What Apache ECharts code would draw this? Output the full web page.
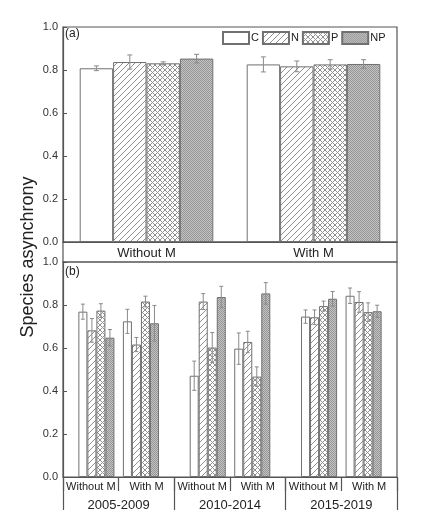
<!DOCTYPE html>
<html>
<head>
<meta charset="utf-8">
<script src="https://cdn.jsdelivr.net/npm/echarts@6/dist/echarts.min.js"></script>
<style>
html,body{margin:0;padding:0;background:#fff;}
#chart{width:434px;height:531px;}
</style>
</head>
<body>
<div id="chart"></div>
<script>
// ---------- data ----------
const treatments = ['C', 'N', 'P', 'NP'];
const topCategories = ['Without M', 'With M'];

const topC = [0.808, 0.826];
const topCErr = [0.011, 0.035];
const topN = [0.837, 0.817];
const topNErr = [0.033, 0.025];
const topP = [0.831, 0.826];
const topPErr = [0.007, 0.022];
const topNP = [0.853, 0.828];
const topNPErr = [0.020, 0.020];

const subgroupLabels = ['Without M', 'With M', 'Without M', 'With M', 'Without M', 'With M'];
const periodLabels = ['2005-2009', '2010-2014', '2015-2019'];

const botC = [0.769, 0.724, 0.471, 0.597, 0.746, 0.843];
const botCErr = [0.035, 0.056, 0.068, 0.073, 0.031, 0.036];
const botN = [0.682, 0.616, 0.816, 0.628, 0.743, 0.814];
const botNErr = [0.055, 0.033, 0.037, 0.050, 0.034, 0.048];
const botP = [0.774, 0.816, 0.602, 0.467, 0.795, 0.767];
const botPErr = [0.032, 0.025, 0.070, 0.045, 0.023, 0.043];
const botNP = [0.648, 0.715, 0.837, 0.854, 0.829, 0.771];
const botNPErr = [0.038, 0.083, 0.050, 0.050, 0.034, 0.028];

const yTicks = ['0.0', '0.2', '0.4', '0.6', '0.8', '1.0'];

// ---------- layout helpers ----------
const slotCount = 15;                    // bottom axis slots
const groupSlots = [1, 3, 6, 8, 11, 13]; // slot of each subgroup
const topBarRatio = 0.20;
const botBarRatio = 0.405;

const topMeans = [topC, topN, topP, topNP];
const topErrs = [topCErr, topNErr, topPErr, topNPErr];
const botMeans = [botC, botN, botP, botNP];
const botErrs = [botCErr, botNErr, botPErr, botNPErr];

// ---------- patterns ----------
function makePattern(kind) {
  const c = document.createElement('canvas');
  const ctx = c.getContext('2d');
  if (kind === 'C') {
    c.width = c.height = 4;
    ctx.fillStyle = '#ffffff'; ctx.fillRect(0, 0, 4, 4);
  } else if (kind === 'N') {
    const s = 6; c.width = c.height = s;
    ctx.fillStyle = '#ffffff'; ctx.fillRect(0, 0, s, s);
    ctx.strokeStyle = '#909090'; ctx.lineWidth = 1;
    ctx.beginPath();
    ctx.moveTo(0, s); ctx.lineTo(s, 0);
    ctx.moveTo(-1, 1); ctx.lineTo(1, -1);
    ctx.moveTo(s - 1, s + 1); ctx.lineTo(s + 1, s - 1);
    ctx.stroke();
  } else if (kind === 'P') {
    const s = 5; c.width = c.height = s;
    ctx.fillStyle = '#ffffff'; ctx.fillRect(0, 0, s, s);
    ctx.strokeStyle = '#909090'; ctx.lineWidth = 1;
    ctx.beginPath();
    ctx.moveTo(0, s); ctx.lineTo(s, 0);
    ctx.moveTo(-1, 1); ctx.lineTo(1, -1);
    ctx.moveTo(s - 1, s + 1); ctx.lineTo(s + 1, s - 1);
    ctx.moveTo(0, 0); ctx.lineTo(s, s);
    ctx.moveTo(-1, s - 1); ctx.lineTo(1, s + 1);
    ctx.moveTo(s - 1, -1); ctx.lineTo(s + 1, 1);
    ctx.stroke();
  } else {
    c.width = c.height = 2;
    ctx.fillStyle = '#c4c4c4'; ctx.fillRect(0, 0, 2, 2);
    ctx.fillStyle = '#959595'; ctx.fillRect(0, 0, 1, 1); ctx.fillRect(1, 1, 1, 1);
  }
  return { image: c, repeat: 'repeat' };
}
const patterns = treatments.map(makePattern);

// ---------- error bar renderer ----------
function errRenderer(ratio, n, cap) {
  return function (params, api) {
    const cat = api.value(0), v = api.value(1), e = api.value(2), k = api.value(3);
    const band = api.size([1, 0])[0];
    const bw = band * ratio;
    const c = api.coord([cat, v]);
    const x = c[0] + (k - (n - 1) / 2) * bw;
    const y1 = api.coord([cat, v + e])[1];
    const y2 = api.coord([cat, v - e])[1];
    const st = { stroke: '#8a8a8a', lineWidth: 1 };
    return {
      type: 'group',
      children: [
        { type: 'line', shape: { x1: x, y1: y1, x2: x, y2: y2 }, style: st },
        { type: 'line', shape: { x1: x - cap, y1: y1, x2: x + cap, y2: y1 }, style: st },
        { type: 'line', shape: { x1: x - cap, y1: y2, x2: x + cap, y2: y2 }, style: st }
      ]
    };
  };
}

// ---------- series ----------
const series = [];
treatments.forEach(function (t, k) {
  series.push({
    name: t, type: 'bar', xAxisIndex: 0, yAxisIndex: 0,
    barWidth: (topBarRatio * 100) + '%', barGap: '0%',
    itemStyle: { color: patterns[k], borderColor: '#707070', borderWidth: 1 },
    data: topMeans[k]
  });
});
treatments.forEach(function (t, k) {
  const slotData = [];
  for (let i = 0; i < slotCount; i++) slotData.push('-');
  groupSlots.forEach(function (s, g) { slotData[s] = botMeans[k][g]; });
  series.push({
    name: t, type: 'bar', xAxisIndex: 2, yAxisIndex: 2,
    barWidth: (botBarRatio * 100) + '%', barGap: '0%',
    itemStyle: { color: patterns[k], borderColor: '#707070', borderWidth: 1 },
    data: slotData
  });
});
const topErrData = [];
treatments.forEach(function (t, k) {
  topCategories.forEach(function (c, i) { topErrData.push([i, topMeans[k][i], topErrs[k][i], k]); });
});
const botErrData = [];
treatments.forEach(function (t, k) {
  groupSlots.forEach(function (s, g) { botErrData.push([s, botMeans[k][g], botErrs[k][g], k]); });
});
series.push({
  type: 'custom', xAxisIndex: 0, yAxisIndex: 0, z: 5,
  renderItem: errRenderer(topBarRatio, 4, 2.5), data: topErrData, silent: true
});
series.push({
  type: 'custom', xAxisIndex: 2, yAxisIndex: 2, z: 5,
  renderItem: errRenderer(botBarRatio, 4, 2), data: botErrData, silent: true
});

// ---------- options ----------
const FONT = 'Liberation Sans, Arial, sans-serif';
const lineCol = '#555555';
const slotNames = [];
for (let i = 0; i < slotCount; i++) slotNames.push('s' + i);

function valueAxis(gi) {
  return {
    type: 'value', gridIndex: gi, min: 0, max: 1, interval: 0.2,
    axisLine: { show: true, lineStyle: { color: lineCol, width: 1.2 } },
    axisTick: { show: true, inside: true, length: 4, lineStyle: { color: lineCol } },
    axisLabel: {
      fontFamily: FONT, fontSize: 11, color: '#333', margin: 5,
      formatter: function (v) { return yTicks[Math.round(v / 0.2)]; }
    },
    splitLine: { show: false }
  };
}

const option = {
  animation: false,
  backgroundColor: '#ffffff',
  textStyle: { fontFamily: FONT },
  title: [
    { text: '(a)', left: 65, top: 28, padding: 0, textStyle: { fontFamily: FONT, fontSize: 12, fontWeight: 'normal', color: '#222' } },
    { text: '(b)', left: 65, top: 266, padding: 0, textStyle: { fontFamily: FONT, fontSize: 12, fontWeight: 'normal', color: '#222' } }
  ],
  legend: {
    data: treatments, left: 222, top: 31, padding: 0, itemGap: 3,
    itemWidth: 26, itemHeight: 12, icon: 'rect',
    textStyle: { fontFamily: FONT, fontSize: 11, color: '#222', padding: [0, 0, 0, -3] },
    selectedMode: false
  },
  grid: [
    { left: 63, right: 37, top: 27, height: 215, show: true, borderColor: lineCol, borderWidth: 1.2, backgroundColor: 'transparent' },
    { left: 63, right: 37, top: 242, height: 20, show: true, borderColor: lineCol, borderWidth: 1.2, backgroundColor: 'transparent' },
    { left: 63, right: 37, top: 262, height: 215, show: true, borderColor: lineCol, borderWidth: 1.2, backgroundColor: 'transparent' }
  ],
  xAxis: [
    {
      type: 'category', gridIndex: 0, data: topCategories,
      axisLine: { show: true, lineStyle: { color: lineCol, width: 1.2 } },
      axisTick: { show: false },
      axisLabel: { fontFamily: FONT, fontSize: 13, color: '#222', margin: 5 }
    },
    { type: 'category', gridIndex: 1, data: ['x'], show: false },
    {
      type: 'category', gridIndex: 2, data: slotNames, position: 'bottom',
      axisLine: { show: true, lineStyle: { color: lineCol, width: 1.2 } },
      axisTick: { show: false }, axisLabel: { show: false }
    },
    {
      type: 'category', gridIndex: 2, data: subgroupLabels, position: 'bottom',
      axisLine: { show: false },
      axisTick: { show: true, length: 14, lineStyle: { color: lineCol, width: 1.2 } },
      axisLabel: { fontFamily: FONT, fontSize: 11, color: '#222', margin: 4, interval: 0 }
    },
    {
      type: 'category', gridIndex: 2, data: periodLabels, position: 'bottom',
      axisLine: { show: false },
      axisTick: { show: true, length: 33, lineStyle: { color: lineCol, width: 1.2 } },
      axisLabel: { fontFamily: FONT, fontSize: 13, color: '#222', margin: 22, interval: 0 }
    }
  ],
  yAxis: [
    valueAxis(0),
    { type: 'value', gridIndex: 1, show: false, min: 0, max: 1 },
    valueAxis(2)
  ],
  graphic: [
    {
      type: 'text', x: 28, y: 257, rotation: Math.PI / 2,
      style: { text: 'Species asynchrony', fontFamily: FONT, fontSize: 18, fill: '#222', textAlign: 'center', textVerticalAlign: 'middle' }
    }
  ],
  series: series
};

const chart = echarts.init(document.getElementById('chart'), null, { renderer: 'canvas' });
chart.setOption(option);
</script>
</body>
</html>
